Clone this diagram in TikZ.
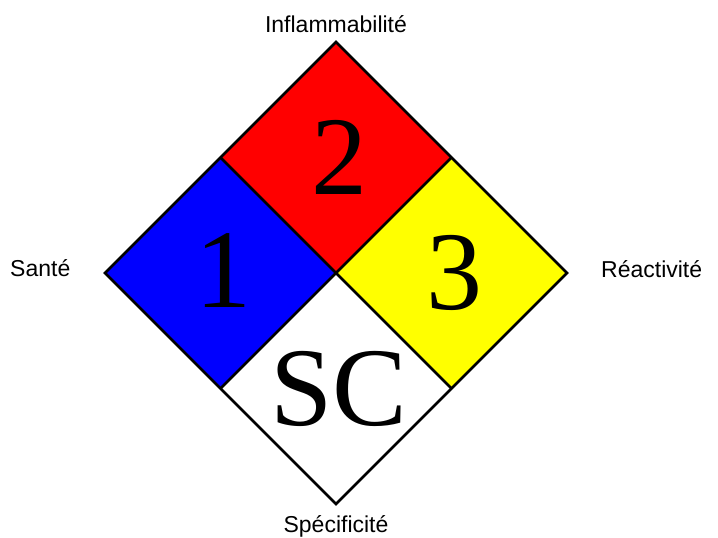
\documentclass[tikz,border=0pt]{standalone}
\usepackage{fontspec}
\usetikzlibrary{calc}
\setmainfont{Liberation Sans}
\newfontfamily\numfont{Liberation Serif}
\definecolor{nfpared}{RGB}{255,0,0}
\definecolor{nfpablue}{RGB}{0,0,255}
\definecolor{nfpayellow}{RGB}{255,255,0}
\begin{document}
\begin{tikzpicture}[x=1pt,y=-1pt,
  quad/.style={draw=black,line width=2.5pt,line join=miter},
  lbl/.style={font=\fontsize{23}{27}\selectfont,inner sep=0pt},
  num/.style={font=\numfont\fontsize{112}{120}\selectfont,inner sep=0pt}]
\useasboundingbox (0,0) rectangle (718,538);
\coordinate (T) at (336,42);
\coordinate (L) at (105,273);
\coordinate (R) at (567,273);
\coordinate (B) at (336,504);
\coordinate (C) at (336,273);
\coordinate (TL) at ($(T)!0.5!(L)$);
\coordinate (TR) at ($(T)!0.5!(R)$);
\coordinate (BL) at ($(B)!0.5!(L)$);
\coordinate (BR) at ($(B)!0.5!(R)$);
\fill[nfpared] (T) -- (TR) -- (C) -- (TL) -- cycle;
\fill[nfpablue] (TL) -- (C) -- (BL) -- (L) -- cycle;
\fill[nfpayellow] (TR) -- (R) -- (BR) -- (C) -- cycle;
\fill[white] (C) -- (BR) -- (B) -- (BL) -- cycle;
\draw[quad] (T) -- (R) -- (B) -- (L) -- cycle;
\draw[quad] (TL) -- (BR);
\draw[quad] (TR) -- (BL);
\node[num] (n2) at (339,157) {2};
\node[num] (n1) at (223,271) {1};
\node[num] (n3) at (454,273) {3};
\node[num] (nsc) at (339,389) {SC};
\node[lbl,anchor=base] (top) at (336,32) {Inflammabilité};
\node[lbl,anchor=base west] (left) at (10,276) {Santé};
\node[lbl,anchor=base west] (right) at (601,277) {Réactivité};
\node[lbl,anchor=base] (bottom) at (336,532) {Spécificité};
\end{tikzpicture}
\end{document}
